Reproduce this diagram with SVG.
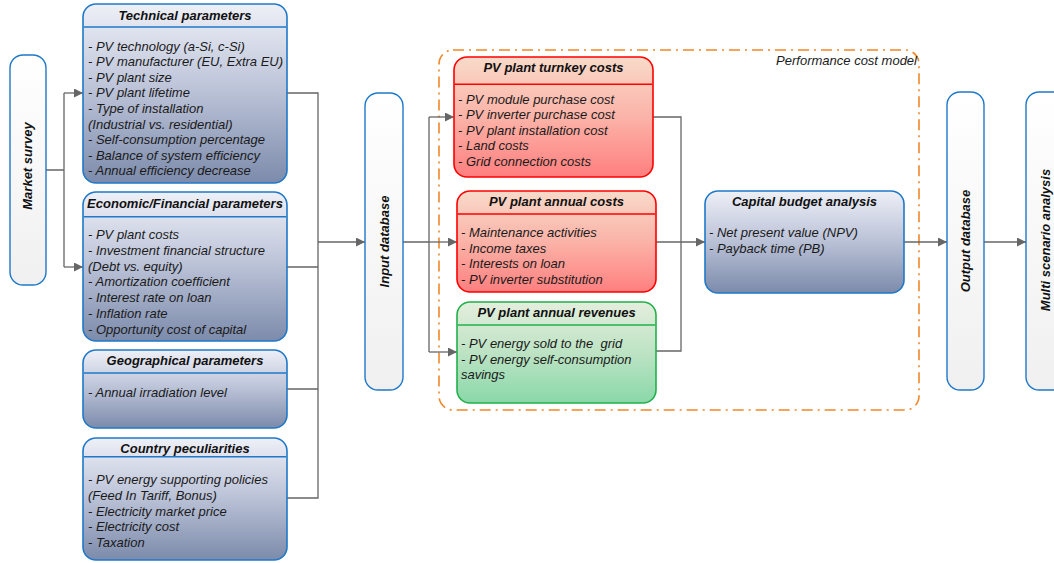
<svg xmlns="http://www.w3.org/2000/svg" width="1054" height="563" viewBox="0 0 1054 563">
<defs>
<linearGradient id="gBlue" x1="0" y1="0" x2="0" y2="1">
<stop offset="0" stop-color="#eef0f7"/><stop offset="0.45" stop-color="#bfc6da"/><stop offset="1" stop-color="#7c8bab"/>
</linearGradient>
<linearGradient id="gRed" x1="0" y1="0" x2="0" y2="1">
<stop offset="0" stop-color="#f8dac9"/><stop offset="0.5" stop-color="#fbb3a8"/><stop offset="1" stop-color="#ff7f7f"/>
</linearGradient>
<linearGradient id="gGreen" x1="0" y1="0" x2="0" y2="1">
<stop offset="0" stop-color="#e4eedd"/><stop offset="0.5" stop-color="#bde3c4"/><stop offset="1" stop-color="#8ad8a9"/>
</linearGradient>
<linearGradient id="gWhite" x1="0" y1="0" x2="0" y2="1">
<stop offset="0" stop-color="#ffffff"/><stop offset="1" stop-color="#f0f0f0"/>
</linearGradient>
<marker id="arr" viewBox="0 0 10 10" refX="10" refY="5" markerWidth="9" markerHeight="9" markerUnits="userSpaceOnUse" orient="auto">
<path d="M0,0 L10,5 L0,10 z" fill="#666"/>
</marker>
<style>
.bb{fill:url(#gBlue);stroke:#1f78c8;stroke-width:1.6}
.rb{fill:url(#gRed);stroke:#ff0000;stroke-width:1.6}
.gb{fill:url(#gGreen);stroke:#22b04a;stroke-width:1.6}
.wb{fill:url(#gWhite);stroke:#1f78c8;stroke-width:1.4}
.bl{stroke:#1f78c8;stroke-width:1.4}
.rl{stroke:#ff0000;stroke-width:1.4}
.gl{stroke:#22b04a;stroke-width:1.4}
.t{font-family:"Liberation Sans",Arial,sans-serif;font-size:13px;font-style:italic;fill:#1a1a1a}
.h{font-family:"Liberation Sans",Arial,sans-serif;font-size:13px;font-style:italic;font-weight:bold;fill:#111;text-anchor:middle}
.c{fill:none;stroke:#666;stroke-width:1.3}
.ca{fill:none;stroke:#666;stroke-width:1.3;marker-end:url(#arr)}
</style>
</defs>

<g id="performance-cost-model">
<rect x="439" y="50" width="480" height="360" rx="14" fill="none" stroke="#f0882a" stroke-width="1.6" stroke-dasharray="11,5,2,5"/>
<text class="t" x="917" y="65" text-anchor="end">Performance cost model</text>
</g>

<g id="connectors">
<path class="c" d="M46,170 H64 M64,93 V267"/>
<path class="ca" d="M64,93 H83"/>
<path class="ca" d="M64,267 H83"/>
<path class="c" d="M287,93 H318 V498 H287 M287,267 H318 M287,389 H318"/>
<path class="ca" d="M318,242 H365"/>
<path class="c" d="M403,242 H429 M429,117 V352"/>
<path class="ca" d="M429,117 H454"/>
<path class="ca" d="M429,242 H457"/>
<path class="ca" d="M429,352 H457"/>
<path class="c" d="M653,117 H681 V351 H656"/>
<path class="ca" d="M656,242 H705"/>
<path class="ca" d="M904,242 H947"/>
<path class="ca" d="M984,242 H1026"/>
</g>

<g id="market-survey">
<rect class="wb" x="10" y="55" width="36" height="230" rx="13"/>
<text class="h" transform="translate(32,166) rotate(-90)">Market survey</text>
</g>

<g id="technical-parameters">
<rect class="bb" x="83" y="4" width="204" height="179" rx="13"/>
<line class="bl" x1="83.8" y1="27" x2="286.2" y2="27"/>
<text class="h" x="185" y="19.5">Technical parameters</text>
<text class="t" x="88" y="50.5">- PV technology (a-Si, c-Si)</text>
<text class="t" x="88" y="66">- PV manufacturer (EU, Extra EU)</text>
<text class="t" x="88" y="81.5">- PV plant size</text>
<text class="t" x="88" y="97">- PV plant lifetime</text>
<text class="t" x="88" y="112.5">- Type of installation</text>
<text class="t" x="88" y="128.5">(Industrial vs. residential)</text>
<text class="t" x="88" y="144">- Self-consumption percentage</text>
<text class="t" x="88" y="159.5">- Balance of system efficiency</text>
<text class="t" x="88" y="174.5">- Annual efficiency decrease</text>
</g>

<g id="economic-financial-parameters">
<rect class="bb" x="83" y="192" width="204" height="149" rx="13"/>
<line class="bl" x1="83.8" y1="216.7" x2="286.2" y2="216.7"/>
<text class="h" x="185" y="207.5">Economic/Financial parameters</text>
<text class="t" x="88" y="239">- PV plant costs</text>
<text class="t" x="88" y="254.5">- Investment financial structure</text>
<text class="t" x="88" y="270.5">(Debt vs. equity)</text>
<text class="t" x="88" y="286">- Amortization coefficient</text>
<text class="t" x="88" y="301.5">- Interest rate on loan</text>
<text class="t" x="88" y="317.5">- Inflation rate</text>
<text class="t" x="88" y="333.5">- Opportunity cost of capital</text>
</g>

<g id="geographical-parameters">
<rect class="bb" x="83" y="350" width="204" height="78" rx="13"/>
<line class="bl" x1="83.8" y1="373" x2="286.2" y2="373"/>
<text class="h" x="185" y="365">Geographical parameters</text>
<text class="t" x="88" y="396.5">- Annual irradiation level</text>
</g>

<g id="country-peculiarities">
<rect class="bb" x="83" y="438" width="204" height="122" rx="13"/>
<line class="bl" x1="83.8" y1="456.7" x2="286.2" y2="456.7"/>
<text class="h" x="185" y="452.5">Country peculiarities</text>
<text class="t" x="88" y="484">- PV energy supporting policies</text>
<text class="t" x="88" y="499.5">(Feed In Tariff, Bonus)</text>
<text class="t" x="88" y="515.5">- Electricity market price</text>
<text class="t" x="88" y="531">- Electricity cost</text>
<text class="t" x="88" y="546.5">- Taxation</text>
</g>

<g id="input-database">
<rect class="wb" x="365" y="93" width="38" height="297" rx="13"/>
<text class="h" transform="translate(388.5,241.5) rotate(-90)">Input database</text>
</g>

<g id="pv-plant-turnkey-costs">
<rect class="rb" x="454" y="57" width="199" height="120" rx="13"/>
<line class="rl" x1="454.8" y1="84.3" x2="652.2" y2="84.3"/>
<text class="h" x="553.5" y="72">PV plant turnkey costs</text>
<text class="t" x="458" y="103.5">- PV module purchase cost</text>
<text class="t" x="458" y="119">- PV inverter purchase cost</text>
<text class="t" x="458" y="134.5">- PV plant installation cost</text>
<text class="t" x="458" y="150">- Land costs</text>
<text class="t" x="458" y="165.5">- Grid connection costs</text>
</g>

<g id="pv-plant-annual-costs">
<rect class="rb" x="457" y="191" width="199" height="101" rx="13"/>
<line class="rl" x1="457.8" y1="214" x2="655.2" y2="214"/>
<text class="h" x="556.5" y="206">PV plant annual costs</text>
<text class="t" x="461" y="237">- Maintenance activities</text>
<text class="t" x="461" y="252.5">- Income taxes</text>
<text class="t" x="461" y="268">- Interests on loan</text>
<text class="t" x="461" y="283.5">- PV inverter substitution</text>
</g>

<g id="pv-plant-annual-revenues">
<rect class="gb" x="457" y="302" width="199" height="101" rx="13"/>
<line class="gl" x1="457.8" y1="325" x2="655.2" y2="325"/>
<text class="h" x="556.5" y="317">PV plant annual revenues</text>
<text class="t" x="461" y="348" xml:space="preserve">- PV energy sold to the  grid</text>
<text class="t" x="461" y="363.5">- PV energy self-consumption</text>
<text class="t" x="461" y="379">savings</text>
</g>

<g id="capital-budget-analysis">
<rect class="bb" x="705" y="191" width="199" height="102" rx="13"/>
<text class="h" x="804.5" y="206">Capital budget analysis</text>
<text class="t" x="709" y="237">- Net present value (NPV)</text>
<text class="t" x="709" y="252.5">- Payback time (PB)</text>
</g>

<g id="output-database">
<rect class="wb" x="947" y="92" width="37" height="298" rx="13"/>
<text class="h" transform="translate(970,241) rotate(-90)">Output database</text>
</g>

<g id="multi-scenario-analysis">
<rect class="wb" x="1026" y="92" width="40" height="298" rx="13"/>
<text class="h" transform="translate(1049.5,240) rotate(-90)">Multi scenario analysis</text>
</g>
</svg>
